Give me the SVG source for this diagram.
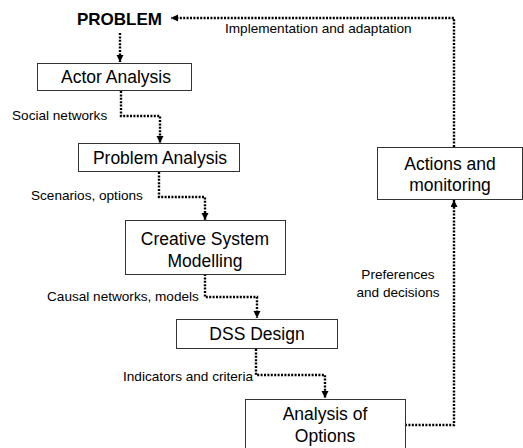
<svg xmlns="http://www.w3.org/2000/svg" width="523" height="448" viewBox="0 0 523 448">
<style>
.box{fill:#fff;stroke:#333;stroke-width:1}
.nt{font-family:"Liberation Sans",Arial,sans-serif;font-size:17.5px;fill:#000;text-anchor:middle}
.lb{font-family:"Liberation Sans",Arial,sans-serif;font-size:13.6px;fill:#000}
.cn{fill:none;stroke:#000;stroke-width:2.4;stroke-dasharray:2 1.4}
</style>
<defs>
<marker id="ah" markerUnits="userSpaceOnUse" markerWidth="8" markerHeight="8" refX="7" refY="3.5" orient="auto">
<path d="M0,0 L7,3.5 L0,7 z" fill="#000"/>
</marker>
</defs>
<rect width="523" height="448" fill="#fff"/>
<g id="connectors">
<path class="cn" d="M120,33 V62" marker-end="url(#ah)"/>
<path class="cn" d="M121,91 V116 H160 V143" marker-end="url(#ah)"/>
<path class="cn" d="M159,172 V197 H205 V220" marker-end="url(#ah)"/>
<path class="cn" d="M205,274 V297 H257 V318" marker-end="url(#ah)"/>
<path class="cn" d="M256,349 V375 H325 V398" marker-end="url(#ah)"/>
<path class="cn" d="M405,425 H454 V200" marker-end="url(#ah)"/>
<path class="cn" d="M454,147 V18 H171" marker-end="url(#ah)"/>
</g>
<g id="labels">
<text class="lb" x="225" y="33">Implementation and adaptation</text>
<text class="lb" x="12" y="120">Social networks</text>
<text class="lb" x="31" y="200">Scenarios, options</text>
<text class="lb" x="47" y="301">Causal networks, models</text>
<text class="lb" x="123" y="381">Indicators and criteria</text>
<text class="lb" x="398" y="279" text-anchor="middle">Preferences</text>
<text class="lb" x="398" y="297" text-anchor="middle">and decisions</text>
</g>
<g id="problem">
<text x="119.5" y="25" font-family="Liberation Sans,Arial,sans-serif" font-size="17px" font-weight="bold" text-anchor="middle">PROBLEM</text>
</g>
<g id="actor-analysis">
<rect class="box" x="37.5" y="63.5" width="154" height="27"/>
<text class="nt" x="116" y="83">Actor Analysis</text>
</g>
<g id="problem-analysis">
<rect class="box" x="78.5" y="143.5" width="161" height="28"/>
<text class="nt" x="160" y="164">Problem Analysis</text>
</g>
<g id="creative-system-modelling">
<rect class="box" x="125.5" y="220.5" width="160" height="54"/>
<text class="nt" x="205" y="245">Creative System</text>
<text class="nt" x="205" y="267">Modelling</text>
</g>
<g id="dss-design">
<rect class="box" x="176.5" y="319.5" width="161" height="29"/>
<text class="nt" x="257" y="340">DSS Design</text>
</g>
<g id="analysis-of-options">
<rect class="box" x="245.5" y="399.5" width="160" height="60"/>
<text class="nt" x="325" y="420">Analysis of</text>
<text class="nt" x="325" y="442">Options</text>
</g>
<g id="actions-and-monitoring">
<rect class="box" x="377.5" y="147.5" width="145" height="52"/>
<text class="nt" x="450" y="170">Actions and</text>
<text class="nt" x="450" y="191">monitoring</text>
</g>
</svg>
